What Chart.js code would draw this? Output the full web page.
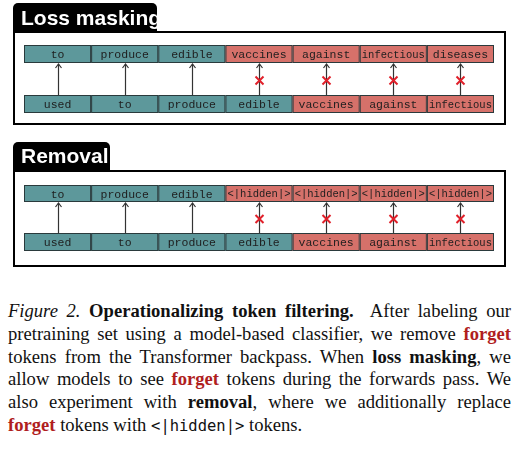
<!DOCTYPE html>
<html><head><meta charset="utf-8">
<script src="https://cdn.jsdelivr.net/npm/chart.js@4"></script>
<style>
body{margin:0;background:#fff;width:525px;height:451px;overflow:hidden}
#wrap{position:absolute;left:0;top:0;width:525px;height:275px}
#cap{position:absolute;left:8px;top:300px;width:503px;font-family:"Liberation Serif",serif;font-size:18.6px;line-height:22.8px;color:#111}
#cap div{text-align:justify;text-align-last:justify;white-space:nowrap}
#cap div.last{text-align-last:left}
.r{color:#b01e1e;font-weight:bold}
.m{font-family:"DejaVu Sans Mono",monospace;font-size:15.5px}
</style></head><body>
<div id="wrap"><canvas id="c"></canvas></div>
<div id="cap">
<div><i>Figure 2.</i> <b>Operationalizing token filtering.</b>&nbsp; After labeling our</div>
<div>pretraining set using a model-based classifier, we remove <span class="r">forget</span></div>
<div>tokens from the Transformer backpass. When <b>loss masking</b>, we</div>
<div>allow models to see <span class="r">forget</span> tokens during the forwards pass. We</div>
<div>also experiment with <b>removal</b>, where we additionally replace</div>
<div class="last"><span class="r">forget</span> tokens with <span class="m">&lt;|hidden|&gt;</span> tokens.</div>
</div>
<script>
const panelTitles = ["Loss masking", "Removal"];
const inputTokens = ["used","to","produce","edible","vaccines","against","infectious"];
const inputForget = [0,0,0,0,1,1,1];
const targetsMask = ["to","produce","edible","vaccines","against","infectious","diseases"];
const targetsRemoval = ["to","produce","edible","<|hidden|>","<|hidden|>","<|hidden|>","<|hidden|>"];
const targetForget = [0,0,0,1,1,1,1];
const TEAL="#5d989b", RED="#d6716a";

const diagram = {
  id:'diagram',
  afterDraw(chart){
    const ctx=chart.ctx, xs=chart.scales.x, ys=chart.scales.y;
    const X=v=>xs.getPixelForValue(v), Y=v=>ys.getPixelForValue(v);
    const panels=[
      {title:panelTitles[0], tab:[13,157,3,33], box:[32,124], top:[45,63], bot:[95,113], targets:targetsMask},
      {title:panelTitles[1], tab:[13,110,142,171], box:[171,266], top:[185,202], bot:[233,251], targets:targetsRemoval}
    ];
    panels.forEach(p=>{
      ctx.fillStyle="#000";
      const [tx0,tx1,ty0,ty1]=p.tab;
      ctx.beginPath();
      ctx.moveTo(tx0,ty1);ctx.lineTo(tx0,ty0+5);ctx.arcTo(tx0,ty0,tx0+5,ty0,5);
      ctx.lineTo(tx1-5,ty0);ctx.arcTo(tx1,ty0,tx1,ty0+5,5);ctx.lineTo(tx1,ty1);ctx.closePath();ctx.fill();
      ctx.fillStyle="#fff";ctx.font="bold 21px 'Liberation Sans',Arial,sans-serif";
      ctx.textAlign="left";ctx.textBaseline="middle";
      ctx.fillText(p.title,tx0+8,(ty0+ty1)/2+1);
      ctx.strokeStyle="#000";ctx.lineWidth=2;
      ctx.strokeRect(14,p.box[0],491,p.box[1]-p.box[0]);
      const row=(toks,forget,yr)=>{
        toks.forEach((t,i)=>{
          const x0=X(i),x1=X(i+1);
          ctx.fillStyle=forget[i]?RED:TEAL;
          ctx.fillRect(x0,Y(yr[0]),x1-x0,Y(yr[1])-Y(yr[0]));
          ctx.strokeStyle="#2a3a3c";ctx.lineWidth=1;
          ctx.strokeRect(x0+0.5,Y(yr[0])+0.5,x1-x0-1,Y(yr[1])-Y(yr[0])-1);
          ctx.fillStyle="#1e1e1e";
          let fs=11.5; ctx.font=fs+"px 'Liberation Mono',monospace";
          ctx.textAlign="center";ctx.textBaseline="middle";
          while(ctx.measureText(t).width>x1-x0-2&&fs>7){fs-=0.5;ctx.font=fs+"px 'Liberation Mono',monospace";}
          ctx.fillText(t,(x0+x1)/2,(Y(yr[0])+Y(yr[1]))/2+1);
        });
      };
      row(p.targets,targetForget,p.top);
      row(inputTokens,inputForget,p.bot);
      for(let i=0;i<7;i++){
        const cx=Math.round(X(i+0.5))+0.5, ya=Y(p.top[1])+1, yb=Y(p.bot[0]);
        ctx.strokeStyle="#333";ctx.lineWidth=1.2;
        ctx.beginPath();ctx.moveTo(cx,yb);ctx.lineTo(cx,ya);ctx.stroke();
        ctx.beginPath();ctx.moveTo(cx-3,ya+4);ctx.lineTo(cx,ya);ctx.lineTo(cx+3,ya+4);ctx.stroke();
        if(targetForget[i]){
          const my=(ya+yb)/2+1;
          ctx.strokeStyle="#e0202a";ctx.lineWidth=2;
          ctx.beginPath();ctx.moveTo(cx-4,my-4);ctx.lineTo(cx+4,my+4);
          ctx.moveTo(cx+4,my-4);ctx.lineTo(cx-4,my+4);ctx.stroke();
        }
      }
    });
  }
};

new Chart(document.getElementById('c'),{
  type:'scatter',
  data:{datasets:[{data:[]}]},
  options:{
    responsive:true,maintainAspectRatio:false,animation:false,
    layout:{padding:{left:24,right:31,top:0,bottom:0}},
    plugins:{legend:{display:false},tooltip:{enabled:false}},
    scales:{
      x:{type:'linear',min:0,max:7,display:false},
      y:{type:'linear',min:0,max:275,reverse:true,display:false}
    }
  },
  plugins:[diagram]
});
</script>
</body></html>
